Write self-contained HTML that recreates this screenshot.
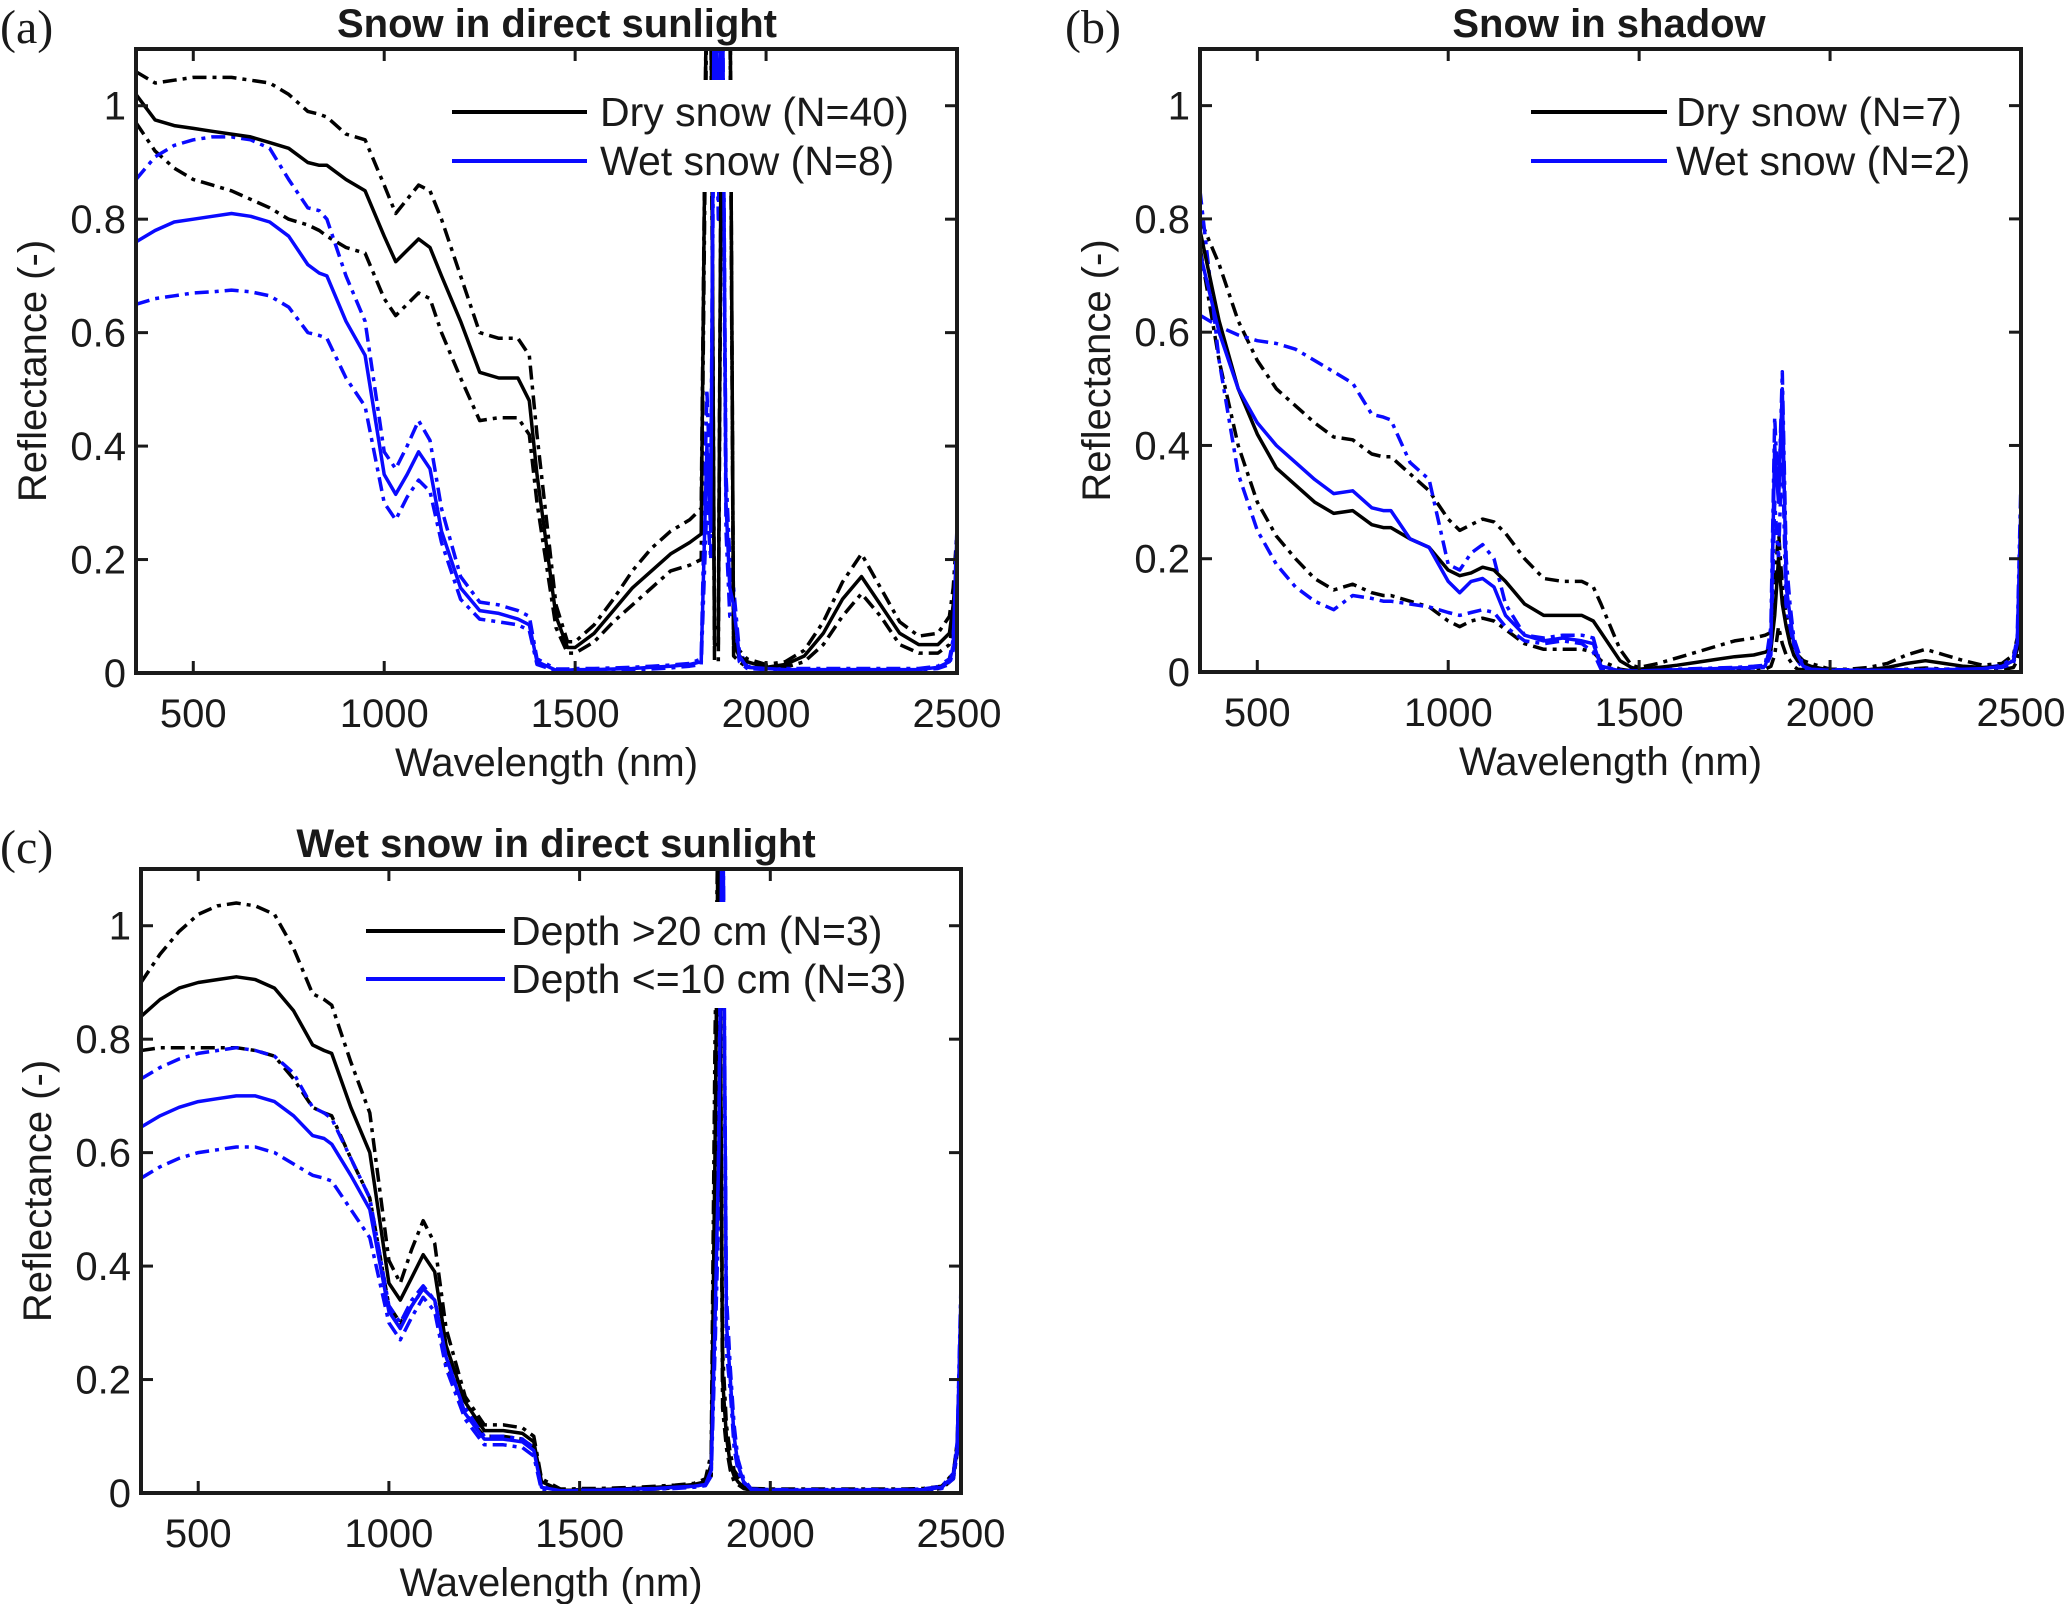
<!DOCTYPE html>
<html><head><meta charset="utf-8"><style>
html,body{margin:0;padding:0;background:#fff}
svg{display:block}
text{font-family:"Liberation Sans",sans-serif;fill:#1a1a1a}
</style></head><body>
<svg id="fig" width="2067" height="1604" viewBox="0 0 2067 1604" xmlns="http://www.w3.org/2000/svg"></svg>
<script>
const wavelengths=[350,400,450,500,550,600,650,700,750,800,830,850,900,950,1000,1030,1060,1090,1120,1150,1200,1250,1300,1350,1380,1400,1450,1480,1500,1550,1600,1650,1700,1750,1800,1830,1845,1855,1865,1875,1885,1895,1905,1915,1930,1950,2000,2050,2100,2150,2200,2250,2300,2350,2400,2450,2480,2490,2500];
const xTicks=[500,1000,1500,2000,2500];
const yTicks=[0,0.2,0.4,0.6,0.8,1];
const yTickLabels=["0","0.2","0.4","0.6","0.8","1"];

const aDryMean=[1.02,.975,.965,.96,.955,.95,.945,.935,.925,.90,.895,.895,.87,.85,.77,.725,.745,.765,.75,.70,.62,.53,.52,.52,.48,.35,.10,.045,.045,.07,.11,.15,.18,.21,.23,.245,1.3,1.3,.05,.05,1.3,1.3,1.3,.05,.03,.02,.01,.015,.03,.07,.13,.17,.12,.07,.05,.05,.07,.12,.2];
const aDryHi=[1.06,1.04,1.045,1.05,1.05,1.05,1.045,1.04,1.02,.99,.985,.98,.95,.94,.86,.81,.835,.86,.85,.80,.70,.60,.59,.59,.56,.42,.12,.055,.055,.085,.13,.18,.22,.25,.27,.29,1.3,1.3,.08,.08,1.3,1.3,1.3,.06,.04,.025,.015,.02,.04,.09,.16,.21,.15,.09,.065,.07,.1,.15,.25];
const aDryLo=[.97,.92,.89,.87,.86,.85,.835,.82,.80,.79,.78,.77,.75,.74,.66,.63,.65,.67,.66,.60,.52,.445,.45,.45,.42,.30,.08,.035,.035,.055,.09,.12,.15,.18,.19,.20,1.2,1.2,.02,.02,1.2,1.2,1.2,.03,.02,.01,.008,.01,.02,.05,.10,.14,.10,.05,.035,.035,.05,.09,.15];
const aWetMean=[.76,.78,.795,.80,.805,.81,.805,.795,.77,.72,.705,.70,.62,.56,.35,.315,.35,.39,.36,.25,.15,.11,.105,.095,.085,.02,.005,.005,.006,.006,.007,.008,.01,.012,.015,.02,.4,.25,1.3,.9,1.3,.3,.15,.12,.03,.01,.008,.006,.006,.006,.006,.006,.006,.006,.006,.01,.02,.05,.25];
const aWetHi=[.87,.91,.93,.94,.945,.945,.94,.925,.87,.82,.815,.80,.70,.62,.39,.36,.40,.445,.41,.29,.17,.125,.12,.11,.10,.025,.007,.007,.008,.008,.009,.01,.012,.014,.017,.025,.5,.3,1.3,1.0,1.3,.35,.2,.15,.04,.012,.01,.008,.008,.008,.008,.008,.008,.008,.008,.012,.025,.06,.26];
const aWetLo=[.65,.66,.665,.67,.672,.675,.672,.665,.645,.60,.595,.59,.52,.47,.30,.27,.31,.34,.32,.23,.13,.095,.09,.085,.075,.015,.004,.004,.004,.004,.005,.006,.007,.009,.012,.015,.3,.2,1.2,.8,1.2,.25,.1,.1,.02,.008,.006,.005,.005,.005,.005,.005,.005,.005,.005,.008,.015,.04,.2];

const bDryMean=[.78,.62,.50,.42,.36,.33,.30,.28,.285,.26,.255,.255,.235,.22,.18,.17,.175,.185,.18,.16,.12,.10,.10,.10,.09,.07,.02,.008,.005,.008,.012,.017,.022,.027,.03,.035,.04,.1,.2,.12,.08,.05,.03,.02,.015,.01,.003,.003,.004,.008,.015,.02,.015,.01,.008,.01,.02,.04,.08];
const bDryHi=[.80,.72,.62,.55,.50,.47,.44,.415,.41,.385,.38,.38,.35,.32,.27,.25,.26,.27,.265,.245,.20,.165,.16,.16,.15,.12,.04,.012,.008,.015,.025,.035,.045,.055,.06,.065,.07,.15,.25,.15,.1,.07,.04,.03,.02,.015,.005,.005,.008,.015,.03,.04,.03,.02,.012,.015,.03,.06,.12];
const bDryLo=[.75,.55,.40,.30,.24,.20,.165,.145,.155,.14,.135,.135,.125,.115,.09,.08,.09,.095,.09,.075,.05,.04,.04,.04,.035,.02,.005,.002,.002,.002,.003,.003,.004,.004,.005,.005,.01,.03,.08,.05,.03,.02,.01,.005,.004,.003,.002,.002,.002,.003,.005,.007,.005,.003,.003,.004,.008,.02,.05];
const bWetMean=[.74,.60,.50,.44,.40,.37,.34,.315,.32,.29,.285,.285,.235,.22,.16,.14,.16,.165,.15,.10,.065,.055,.06,.055,.05,.01,.002,.002,.002,.003,.004,.005,.006,.007,.008,.01,.05,.4,.3,.5,.15,.1,.05,.03,.01,.005,.003,.003,.003,.003,.003,.004,.004,.005,.006,.01,.02,.05,.3];
const bWetHi=[.63,.61,.595,.585,.58,.57,.55,.53,.51,.455,.45,.445,.37,.34,.19,.18,.21,.225,.20,.12,.065,.06,.065,.065,.06,.01,.003,.003,.003,.004,.005,.006,.007,.008,.01,.012,.08,.45,.3,.53,.2,.12,.06,.04,.01,.006,.004,.004,.004,.004,.004,.005,.005,.006,.007,.012,.025,.06,.34];
const bWetLo=[.85,.55,.35,.25,.19,.15,.125,.11,.135,.13,.125,.125,.12,.115,.105,.10,.105,.11,.105,.08,.055,.05,.055,.05,.035,.005,.001,.001,.001,.002,.003,.004,.005,.006,.007,.008,.03,.3,.2,.4,.1,.08,.03,.02,.005,.004,.002,.002,.002,.002,.002,.003,.003,.004,.005,.008,.015,.04,.25];

const cDeepMean=[.84,.87,.89,.90,.905,.91,.905,.89,.85,.79,.78,.775,.68,.60,.37,.34,.38,.42,.39,.26,.16,.11,.11,.105,.09,.02,.005,.005,.006,.006,.007,.008,.01,.012,.015,.02,.05,.6,1.3,.2,.1,.05,.03,.02,.01,.006,.005,.005,.005,.005,.005,.005,.005,.005,.006,.01,.03,.08,.3];
const cDeepHi=[.90,.95,.99,1.02,1.035,1.04,1.035,1.02,.96,.88,.87,.86,.76,.67,.41,.37,.43,.48,.44,.29,.17,.12,.12,.115,.10,.025,.007,.007,.008,.008,.009,.01,.012,.014,.017,.025,.07,.8,1.3,.25,.12,.07,.04,.03,.015,.008,.007,.007,.007,.007,.007,.007,.007,.007,.008,.012,.035,.09,.32];
const cDeepLo=[.78,.785,.785,.785,.785,.785,.78,.77,.73,.68,.67,.665,.59,.52,.33,.30,.33,.36,.34,.23,.14,.10,.10,.095,.08,.015,.004,.004,.004,.004,.005,.006,.007,.009,.012,.015,.03,.4,1.2,.15,.08,.04,.02,.015,.008,.005,.004,.004,.004,.004,.004,.004,.004,.004,.005,.008,.025,.07,.25];
const cShallowMean=[.645,.665,.68,.69,.695,.70,.70,.69,.665,.63,.625,.615,.56,.50,.32,.29,.33,.36,.34,.24,.14,.095,.095,.09,.075,.01,.004,.004,.005,.005,.006,.007,.008,.01,.012,.015,.04,.3,.6,1.3,.3,.2,.1,.05,.02,.006,.005,.005,.005,.005,.005,.005,.005,.005,.006,.01,.03,.08,.35];
const cShallowHi=[.73,.75,.765,.775,.78,.785,.78,.77,.74,.68,.67,.66,.59,.52,.33,.30,.34,.365,.34,.25,.15,.10,.10,.095,.08,.012,.005,.005,.006,.006,.007,.008,.009,.011,.013,.017,.05,.35,.7,1.3,.35,.22,.12,.06,.025,.007,.006,.006,.006,.006,.006,.006,.006,.006,.007,.012,.035,.09,.37];
const cShallowLo=[.555,.575,.59,.60,.605,.61,.61,.60,.58,.56,.555,.55,.50,.45,.30,.27,.31,.345,.32,.22,.13,.085,.085,.08,.065,.005,.003,.003,.004,.004,.005,.006,.007,.008,.01,.013,.03,.25,.5,1.2,.25,.18,.08,.04,.015,.005,.004,.004,.004,.004,.004,.004,.004,.004,.005,.008,.025,.07,.3];

const NS="http://www.w3.org/2000/svg";
const svg=document.getElementById('fig');
function mk(tag,attrs,parent){const e=document.createElementNS(NS,tag);for(const k in attrs)e.setAttribute(k,attrs[k]);(parent||svg).appendChild(e);return e;}

const panels=[
 {id:'a',L:136,T:49,R:957,B:673,title:'Snow in direct sunlight',tx:557,letterX:0,
  series:[[aDryHi,'#000',1],[aDryLo,'#000',1],[aWetHi,'#0a0aff',1],[aWetLo,'#0a0aff',1],[aDryMean,'#000',0],[aWetMean,'#0a0aff',0]],
  leg:{box:[441,80,482,112],x1:452,x2:587,tx:600,y1:112,y2:161,t1:'Dry snow (N=40)',t2:'Wet snow (N=8)'}},
 {id:'b',L:1200,T:49,R:2021,B:672,title:'Snow in shadow',tx:1609,letterX:1065,
  series:[[bDryHi,'#000',1],[bDryLo,'#000',1],[bWetHi,'#0a0aff',1],[bWetLo,'#0a0aff',1],[bDryMean,'#000',0],[bWetMean,'#0a0aff',0]],
  leg:{box:[1522,80,470,112],x1:1531,x2:1667,tx:1676,y1:112,y2:161,t1:'Dry snow (N=7)',t2:'Wet snow (N=2)'}},
 {id:'c',L:141,T:869,R:961,B:1493,title:'Wet snow in direct sunlight',tx:556,letterX:0,
  series:[[cDeepHi,'#000',1],[cDeepLo,'#000',1],[cShallowHi,'#0a0aff',1],[cShallowLo,'#0a0aff',1],[cDeepMean,'#000',0],[cShallowMean,'#0a0aff',0]],
  leg:{box:[356,902,567,106],x1:366,x2:505,tx:511,y1:931,y2:979,t1:'Depth >20 cm (N=3)',t2:'Depth <=10 cm (N=3)'}}
];

panels.forEach(p=>{
  const g=mk('g',{});
  
  
  const xs=w=>p.L+(w-350)/(2500-350)*(p.R-p.L);
  const ys=v=>p.B-v/1.1*(p.B-p.T);
  const cp=mk('clipPath',{id:'clip'+p.id},g);
  mk('rect',{x:p.L,y:p.T,width:p.R-p.L,height:p.B-p.T},cp);
  const lg=mk('g',{'clip-path':'url(#clip'+p.id+')'},g);
  p.series.forEach((s,i)=>{
    const d=s[0].map((v,j)=>(j?'L':'M')+xs(wavelengths[j]).toFixed(1)+' '+ys(v).toFixed(1)).join(' ');
    const path=mk('path',{d:d,fill:'none',stroke:s[1],'stroke-width':3.5,'stroke-linejoin':'round'},lg);
    if(s[2])path.setAttribute('stroke-dasharray','14 6 4 6');
    
    
  });
  const L=p.leg;
  const lgd=mk('g',{},g);
  
  
  mk('rect',{x:L.box[0],y:L.box[1],width:L.box[2],height:L.box[3],fill:'#fff'},lgd);
  mk('line',{x1:L.x1,x2:L.x2,y1:L.y1,y2:L.y1,stroke:'#000','stroke-width':4},lgd);
  mk('line',{x1:L.x1,x2:L.x2,y1:L.y2,y2:L.y2,stroke:'#0a0aff','stroke-width':4},lgd);
  const t1=mk('text',{x:L.tx,y:L.y1+14,'font-size':41},lgd);t1.textContent=L.t1;
  
  
  const t2=mk('text',{x:L.tx,y:L.y2+14,'font-size':41},lgd);t2.textContent=L.t2;
  
  
  const box=mk('rect',{x:p.L,y:p.T,width:p.R-p.L,height:p.B-p.T,fill:'none',stroke:'#1a1a1a','stroke-width':4},g);
  
  
  xTicks.forEach(t=>{
    const x=xs(t);
    mk('line',{x1:x,x2:x,y1:p.B,y2:p.B-12,stroke:'#1a1a1a','stroke-width':3},g);
    mk('line',{x1:x,x2:x,y1:p.T,y2:p.T+12,stroke:'#1a1a1a','stroke-width':3},g);
    const tl=mk('text',{x:x,y:p.B+54,'font-size':40,'text-anchor':'middle'},g);tl.textContent=t;
    
    
  });
  yTicks.forEach((t,i)=>{
    const y=ys(t);
    mk('line',{x1:p.L,x2:p.L+12,y1:y,y2:y,stroke:'#1a1a1a','stroke-width':3},g);
    mk('line',{x1:p.R,x2:p.R-12,y1:y,y2:y,stroke:'#1a1a1a','stroke-width':3},g);
    const tl=mk('text',{x:p.L-10,y:y+14,'font-size':40,'text-anchor':'end'},g);tl.textContent=yTickLabels[i];
    
    
  });
  const xl=mk('text',{x:(p.L+p.R)/2,y:p.B+103,'font-size':40,'text-anchor':'middle'},g);xl.textContent='Wavelength (nm)';
  
  
  const yc=(p.T+p.B)/2+10, yx=p.L-90;
  const yl=mk('text',{x:yx,y:yc,'font-size':40,'text-anchor':'middle',transform:`rotate(-90 ${yx} ${yc})`},g);yl.textContent='Reflectance (-)';
  
  
  const ti=mk('text',{x:p.tx,y:p.T-12,'font-size':40,'font-weight':'bold','text-anchor':'middle'},g);ti.textContent=p.title;
  
  
  const pl=mk('text',{x:p.letterX,y:p.T-6,'font-size':48,style:'font-family:"Liberation Serif",serif'},g);pl.textContent='('+p.id+')';
  
  
});
</script>
</body></html>
